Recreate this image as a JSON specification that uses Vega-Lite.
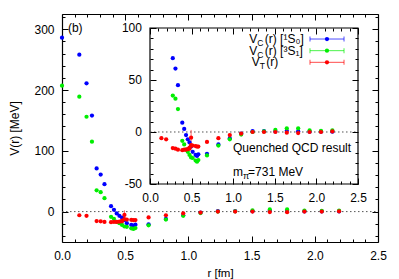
{
  "$schema": "https://vega.github.io/schema/vega-lite/v6.json",
  "width": 316,
  "height": 228,
  "autosize": "none",
  "padding": {"left": 62, "top": 14, "right": 21, "bottom": 37},
  "background": "white",
  "config": {
    "view": {"stroke": null},
    "font": "Liberation Sans",
    "axis": {"labelFont": "Liberation Sans", "titleFont": "Liberation Sans", "labelFontSize": 12, "titleFontSize": 12, "titleFontWeight": "normal", "labelColor": "#000", "titleColor": "#000", "domainColor": "#000", "tickColor": "#000", "grid": false, "labelOverlap": false, "labelFlush": false, "labelBound": false},
    "text": {"font": "Liberation Sans", "fontSize": 12, "color": "#000"}
  },
  "datasets": {
    "pts": [
      {"r": 0.0, "v": 286, "s": "1S0"},
      {"r": 0.137, "v": 258, "s": "1S0"},
      {"r": 0.194, "v": 211, "s": "1S0"},
      {"r": 0.237, "v": 158, "s": "1S0"},
      {"r": 0.274, "v": 71, "s": "1S0"},
      {"r": 0.306, "v": 61, "s": "1S0"},
      {"r": 0.336, "v": 45, "s": "1S0"},
      {"r": 0.388, "v": 9, "s": "1S0"},
      {"r": 0.411, "v": 3, "s": "1S0"},
      {"r": 0.433, "v": -3, "s": "1S0"},
      {"r": 0.454, "v": -7, "s": "1S0"},
      {"r": 0.475, "v": -10, "s": "1S0"},
      {"r": 0.494, "v": -14, "s": "1S0"},
      {"r": 0.513, "v": -19, "s": "1S0"},
      {"r": 0.548, "v": -22, "s": "1S0"},
      {"r": 0.565, "v": -23, "s": "1S0"},
      {"r": 0.581, "v": -21.5, "s": "1S0"},
      {"r": 0.685, "v": -21, "s": "1S0"},
      {"r": 0.822, "v": -12, "s": "1S0"},
      {"r": 0.959, "v": -6, "s": "1S0"},
      {"r": 1.096, "v": -1.5, "s": "1S0"},
      {"r": 1.233, "v": 0.8, "s": "1S0"},
      {"r": 1.37, "v": 0.8, "s": "1S0"},
      {"r": 1.507, "v": 0.5, "s": "1S0"},
      {"r": 1.644, "v": 1.2, "s": "1S0"},
      {"r": 1.781, "v": 0.8, "s": "1S0"},
      {"r": 1.918, "v": 0.3, "s": "1S0"},
      {"r": 2.055, "v": 0.3, "s": "1S0"},
      {"r": 2.192, "v": 0.3, "s": "1S0"},
      {"r": 0.0, "v": 207, "s": "3S1"},
      {"r": 0.137, "v": 189, "s": "3S1"},
      {"r": 0.194, "v": 156, "s": "3S1"},
      {"r": 0.237, "v": 115, "s": "3S1"},
      {"r": 0.274, "v": 35, "s": "3S1"},
      {"r": 0.306, "v": 32, "s": "3S1"},
      {"r": 0.336, "v": 22, "s": "3S1"},
      {"r": 0.388, "v": -8.5, "s": "3S1"},
      {"r": 0.411, "v": -12, "s": "3S1"},
      {"r": 0.433, "v": -17, "s": "3S1"},
      {"r": 0.454, "v": -19, "s": "3S1"},
      {"r": 0.475, "v": -22, "s": "3S1"},
      {"r": 0.494, "v": -24.5, "s": "3S1"},
      {"r": 0.513, "v": -25, "s": "3S1"},
      {"r": 0.548, "v": -27.5, "s": "3S1"},
      {"r": 0.565, "v": -28.5, "s": "3S1"},
      {"r": 0.581, "v": -27, "s": "3S1"},
      {"r": 0.685, "v": -22.5, "s": "3S1"},
      {"r": 0.822, "v": -13, "s": "3S1"},
      {"r": 0.959, "v": -7, "s": "3S1"},
      {"r": 1.096, "v": -2.5, "s": "3S1"},
      {"r": 1.233, "v": 0, "s": "3S1"},
      {"r": 1.37, "v": 0.5, "s": "3S1"},
      {"r": 1.507, "v": 2, "s": "3S1"},
      {"r": 1.644, "v": 3.5, "s": "3S1"},
      {"r": 1.781, "v": 3.5, "s": "3S1"},
      {"r": 1.918, "v": 1.5, "s": "3S1"},
      {"r": 2.055, "v": 1, "s": "3S1"},
      {"r": 2.192, "v": 1.5, "s": "3S1"},
      {"r": 0.137, "v": -6, "s": "T"},
      {"r": 0.194, "v": -7, "s": "T"},
      {"r": 0.274, "v": -15.5, "s": "T"},
      {"r": 0.306, "v": -16, "s": "T"},
      {"r": 0.336, "v": -17, "s": "T"},
      {"r": 0.388, "v": -17.5, "s": "T"},
      {"r": 0.411, "v": -17, "s": "T"},
      {"r": 0.433, "v": -17, "s": "T"},
      {"r": 0.454, "v": -16.5, "s": "T"},
      {"r": 0.475, "v": -16, "s": "T"},
      {"r": 0.475, "v": -15, "s": "T"},
      {"r": 0.494, "v": -12.5, "s": "T"},
      {"r": 0.494, "v": -5.5, "s": "T"},
      {"r": 0.513, "v": -13, "s": "T"},
      {"r": 0.548, "v": -13.5, "s": "T"},
      {"r": 0.565, "v": -14, "s": "T"},
      {"r": 0.581, "v": -14, "s": "T"},
      {"r": 0.685, "v": -9.5, "s": "T"},
      {"r": 0.822, "v": -6, "s": "T"},
      {"r": 0.959, "v": -2.9, "s": "T"},
      {"r": 1.096, "v": -1.5, "s": "T"},
      {"r": 1.233, "v": 0, "s": "T"},
      {"r": 1.37, "v": 0, "s": "T"},
      {"r": 1.507, "v": 0, "s": "T"},
      {"r": 1.644, "v": -0.7, "s": "T"},
      {"r": 1.781, "v": -1, "s": "T"},
      {"r": 1.918, "v": 0, "s": "T"},
      {"r": 2.055, "v": 0, "s": "T"},
      {"r": 2.192, "v": 0.5, "s": "T"}
    ],
    "eb": [
      {"r": 0.494, "lo": -13, "hi": 2, "s": "T"}
    ],
    "one": [{}]
  },
  "layer": [
    {
      "layer": [
        {
          "data": {"name": "one"},
          "mark": {"type": "rule", "color": "#555", "strokeDash": [1.5, 2.5], "strokeWidth": 1},
          "encoding": {
            "x": {"datum": 0, "type": "quantitative", "scale": {"domain": [0, 2.5], "nice": false},
              "axis": {"orient": "top", "title": null, "labels": false, "domain": true, "domainWidth": 1.2,
                "values": [0,0.1,0.2,0.3,0.4,0.5,0.6,0.7,0.8,0.9,1,1.1,1.2,1.3,1.4,1.5,1.6,1.7,1.8,1.9,2,2.1,2.2,2.3,2.4,2.5],
                "tickSize": {"condition": {"test": "abs(datum.value*2 - round(datum.value*2)) < 0.001", "value": -6}, "value": -3}}},
            "x2": {"datum": 2.5},
            "y": {"datum": 0, "type": "quantitative", "scale": {"domain": [-50, 325], "nice": false},
              "axis": {"orient": "right", "title": null, "labels": false, "domain": true, "domainWidth": 1.2,
                "values": [-40,-20,0,20,40,60,80,100,120,140,160,180,200,220,240,260,280,300,320],
                "tickSize": {"condition": {"test": "datum.value % 100 == 0", "value": -6}, "value": -3}}}
          }
        },
        {
          "data": {"name": "eb"},
          "mark": {"type": "rule", "strokeWidth": 1, "opacity": 0.6},
          "encoding": {
            "x": {"field": "r", "type": "quantitative", "axis": null},
            "y": {"field": "lo", "type": "quantitative", "axis": null},
            "y2": {"field": "hi"},
            "color": {"field": "s", "type": "nominal", "legend": null, "scale": {"domain": ["1S0", "3S1", "T"], "range": ["#0000ff", "#00ee00", "#ff0000"]}}
          }
        },
        {
          "data": {"name": "pts"},
          "mark": {"type": "point", "filled": true, "size": 18, "opacity": 1},
          "encoding": {
            "x": {"field": "r", "type": "quantitative", "scale": {"domain": [0, 2.5], "nice": false},
              "axis": {"orient": "bottom", "title": "r [fm]", "titlePadding": 3, "titleFontSize": 11.5, "domain": true, "domainWidth": 1.2, "labelPadding": 14,
                "values": [0,0.1,0.2,0.3,0.4,0.5,0.6,0.7,0.8,0.9,1,1.1,1.2,1.3,1.4,1.5,1.6,1.7,1.8,1.9,2,2.1,2.2,2.3,2.4,2.5],
                "labelExpr": "abs(datum.value*2 - round(datum.value*2)) < 0.001 ? format(datum.value, '.1f') : ''",
                "tickSize": {"condition": {"test": "abs(datum.value*2 - round(datum.value*2)) < 0.001", "value": -6}, "value": -3}}},
            "y": {"field": "v", "type": "quantitative", "scale": {"domain": [-50, 325], "nice": false},
              "axis": {"orient": "left", "title": "V(r) [MeV]", "titlePadding": 12, "domain": true, "domainWidth": 1.2, "labelPadding": 14,
                "values": [-40,-20,0,20,40,60,80,100,120,140,160,180,200,220,240,260,280,300,320],
                "labelExpr": "datum.value % 100 == 0 ? '' + datum.value : ''",
                "tickSize": {"condition": {"test": "datum.value % 100 == 0", "value": -6}, "value": -3}}},
            "color": {"field": "s", "type": "nominal", "legend": null}
          }
        },
        {
          "data": {"name": "one"},
          "mark": {"type": "text", "text": "(b)", "align": "left", "baseline": "middle"},
          "encoding": {
            "x": {"datum": 0.047, "type": "quantitative", "axis": null},
            "y": {"datum": 302, "type": "quantitative", "axis": null}
          }
        },
        {"data": {"name": "one"}, "mark": {"type": "text", "text": "100", "align": "right", "baseline": "middle", "dx": -8},
          "encoding": {"x": {"datum": 0.696, "type": "quantitative", "axis": null}, "y": {"datum": 302, "type": "quantitative", "axis": null}}},
        {"data": {"name": "one"}, "mark": {"type": "text", "text": "50", "align": "right", "baseline": "middle", "dx": -8},
          "encoding": {"x": {"datum": 0.696, "type": "quantitative", "axis": null}, "y": {"datum": 216.4, "type": "quantitative", "axis": null}}},
        {"data": {"name": "one"}, "mark": {"type": "text", "text": "0", "align": "right", "baseline": "middle", "dx": -8},
          "encoding": {"x": {"datum": 0.696, "type": "quantitative", "axis": null}, "y": {"datum": 130.9, "type": "quantitative", "axis": null}}},
        {"data": {"name": "one"}, "mark": {"type": "text", "text": "-50", "align": "right", "baseline": "middle", "dx": -8},
          "encoding": {"x": {"datum": 0.696, "type": "quantitative", "axis": null}, "y": {"datum": 45.4, "type": "quantitative", "axis": null}}}
      ],
      "resolve": {"axis": {"x": "independent", "y": "independent"}}
    },
    {
      "layer": [
        {
          "data": {"name": "one"},
          "mark": {"type": "rect", "fill": null, "fillOpacity": 0, "stroke": "#000", "strokeWidth": 1.2},
          "encoding": {
            "x": {"datum": 0, "type": "quantitative", "scale": {"domain": [-1.0577, 2.7404], "nice": false, "zero": false},
              "axis": {"orient": "top", "offset": -14, "zindex": 1, "title": null, "labels": false, "domain": false,
                "values": [0,0.1,0.2,0.3,0.4,0.5,0.6,0.7,0.8,0.9,1,1.1,1.2,1.3,1.4,1.5,1.6,1.7,1.8,1.9,2,2.1,2.2,2.3,2.4,2.5],
                "tickSize": {"condition": {"test": "abs(datum.value*2 - round(datum.value*2)) < 0.001", "value": -6}, "value": -3}}},
            "x2": {"datum": 2.5},
            "y": {"datum": -50, "type": "quantitative", "scale": {"domain": [-105.77, 113.46], "nice": false, "zero": false},
              "axis": {"orient": "right", "offset": -20, "zindex": 1, "title": null, "labels": false, "domain": false,
                "values": [-50,-40,-30,-20,-10,0,10,20,30,40,50,60,70,80,90,100],
                "tickSize": {"condition": {"test": "datum.value % 50 == 0", "value": -6}, "value": -3}}},
            "y2": {"datum": 100}
          }
        },
        {
          "data": {"name": "one"},
          "mark": {"type": "rule", "color": "#555", "strokeDash": [1.5, 2.5], "strokeWidth": 1},
          "encoding": {
            "x": {"datum": 0, "type": "quantitative", "axis": null},
            "x2": {"datum": 2.5},
            "y": {"datum": 0, "type": "quantitative",
              "axis": {"orient": "left", "offset": -88, "zindex": 1, "title": null, "labels": false, "domain": false,
                "values": [-50,-40,-30,-20,-10,0,10,20,30,40,50,60,70,80,90,100],
                "tickSize": {"condition": {"test": "datum.value % 50 == 0", "value": -6}, "value": -3}}}
          }
        },
        {
          "data": {"name": "eb"},
          "mark": {"type": "rule", "strokeWidth": 1, "opacity": 0.6},
          "encoding": {
            "x": {"field": "r", "type": "quantitative", "axis": null},
            "y": {"field": "lo", "type": "quantitative", "axis": null},
            "y2": {"field": "hi"},
            "color": {"field": "s", "type": "nominal", "legend": null}
          }
        },
        {
          "data": {"name": "pts"},
          "transform": [{"filter": "datum.v <= 100 && datum.v >= -50"}],
          "mark": {"type": "point", "filled": true, "size": 18, "opacity": 1},
          "encoding": {
            "x": {"field": "r", "type": "quantitative", "scale": {"domain": [-1.0577, 2.7404], "nice": false, "zero": false},
              "axis": {"orient": "bottom", "offset": -58, "zindex": 1, "title": null, "domain": false, "labelPadding": 14,
                "values": [0,0.1,0.2,0.3,0.4,0.5,0.6,0.7,0.8,0.9,1,1.1,1.2,1.3,1.4,1.5,1.6,1.7,1.8,1.9,2,2.1,2.2,2.3,2.4,2.5],
                "labelExpr": "abs(datum.value*2 - round(datum.value*2)) < 0.001 ? format(datum.value, '.1f') : ''",
                "tickSize": {"condition": {"test": "abs(datum.value*2 - round(datum.value*2)) < 0.001", "value": -6}, "value": -3}}},
            "y": {"field": "v", "type": "quantitative", "scale": {"domain": [-105.77, 113.46], "nice": false, "zero": false}, "axis": null},
            "color": {"field": "s", "type": "nominal", "legend": null}
          }
        },
        {"data": {"name": "one"}, "mark": {"type": "rule", "color": "#0000ff", "strokeWidth": 1, "opacity": 0.7},
          "encoding": {"x": {"datum": 1.923, "type": "quantitative", "axis": null}, "x2": {"datum": 2.332}, "y": {"datum": 89.4, "type": "quantitative", "axis": null}}},
        {"data": {"name": "one"}, "mark": {"type": "rule", "color": "#00ee00", "strokeWidth": 1, "opacity": 0.7},
          "encoding": {"x": {"datum": 1.923, "type": "quantitative", "axis": null}, "x2": {"datum": 2.332}, "y": {"datum": 78.2, "type": "quantitative", "axis": null}}},
        {"data": {"name": "one"}, "mark": {"type": "rule", "color": "#ff0000", "strokeWidth": 1, "opacity": 0.7},
          "encoding": {"x": {"datum": 1.923, "type": "quantitative", "axis": null}, "x2": {"datum": 2.332}, "y": {"datum": 67, "type": "quantitative", "axis": null}}},
        {"data": {"name": "one"}, "mark": {"type": "tick", "orient": "vertical", "color": "#0000ff", "size": 5, "thickness": 1, "opacity": 0.7},
          "encoding": {"x": {"datum": 1.923, "type": "quantitative", "axis": null}, "y": {"datum": 89.4, "type": "quantitative", "axis": null}}},
        {"data": {"name": "one"}, "mark": {"type": "tick", "orient": "vertical", "color": "#0000ff", "size": 5, "thickness": 1, "opacity": 0.7},
          "encoding": {"x": {"datum": 2.332, "type": "quantitative", "axis": null}, "y": {"datum": 89.4, "type": "quantitative", "axis": null}}},
        {"data": {"name": "one"}, "mark": {"type": "tick", "orient": "vertical", "color": "#00ee00", "size": 5, "thickness": 1, "opacity": 0.7},
          "encoding": {"x": {"datum": 1.923, "type": "quantitative", "axis": null}, "y": {"datum": 78.2, "type": "quantitative", "axis": null}}},
        {"data": {"name": "one"}, "mark": {"type": "tick", "orient": "vertical", "color": "#00ee00", "size": 5, "thickness": 1, "opacity": 0.7},
          "encoding": {"x": {"datum": 2.332, "type": "quantitative", "axis": null}, "y": {"datum": 78.2, "type": "quantitative", "axis": null}}},
        {"data": {"name": "one"}, "mark": {"type": "tick", "orient": "vertical", "color": "#ff0000", "size": 5, "thickness": 1, "opacity": 0.7},
          "encoding": {"x": {"datum": 1.923, "type": "quantitative", "axis": null}, "y": {"datum": 67, "type": "quantitative", "axis": null}}},
        {"data": {"name": "one"}, "mark": {"type": "tick", "orient": "vertical", "color": "#ff0000", "size": 5, "thickness": 1, "opacity": 0.7},
          "encoding": {"x": {"datum": 2.332, "type": "quantitative", "axis": null}, "y": {"datum": 67, "type": "quantitative", "axis": null}}},
        {"data": {"name": "one"}, "mark": {"type": "point", "filled": true, "color": "#0000ff", "size": 18, "opacity": 1},
          "encoding": {"x": {"datum": 2.127, "type": "quantitative", "axis": null}, "y": {"datum": 89.4, "type": "quantitative", "axis": null}}},
        {"data": {"name": "one"}, "mark": {"type": "point", "filled": true, "color": "#00ee00", "size": 18, "opacity": 1},
          "encoding": {"x": {"datum": 2.127, "type": "quantitative", "axis": null}, "y": {"datum": 78.2, "type": "quantitative", "axis": null}}},
        {"data": {"name": "one"}, "mark": {"type": "point", "filled": true, "color": "#ff0000", "size": 18, "opacity": 1},
          "encoding": {"x": {"datum": 2.127, "type": "quantitative", "axis": null}, "y": {"datum": 67, "type": "quantitative", "axis": null}}},
        {"data": {"name": "one"}, "mark": {"type": "text", "text": "V", "align": "left", "baseline": "middle"},
          "encoding": {"x": {"datum": 1.193, "type": "quantitative", "axis": null}, "y": {"datum": 89.4, "type": "quantitative", "axis": null}}},
        {"data": {"name": "one"}, "mark": {"type": "text", "text": "C", "align": "left", "baseline": "middle", "dx": 8, "dy": 4, "fontSize": 8.5},
          "encoding": {"x": {"datum": 1.193, "type": "quantitative", "axis": null}, "y": {"datum": 89.4, "type": "quantitative", "axis": null}}},
        {"data": {"name": "one"}, "mark": {"type": "text", "text": "(r) [¹S₀]", "align": "left", "baseline": "middle", "dx": 15.5},
          "encoding": {"x": {"datum": 1.193, "type": "quantitative", "axis": null}, "y": {"datum": 89.4, "type": "quantitative", "axis": null}}},
        {"data": {"name": "one"}, "mark": {"type": "text", "text": "V", "align": "left", "baseline": "middle"},
          "encoding": {"x": {"datum": 1.193, "type": "quantitative", "axis": null}, "y": {"datum": 78.2, "type": "quantitative", "axis": null}}},
        {"data": {"name": "one"}, "mark": {"type": "text", "text": "C", "align": "left", "baseline": "middle", "dx": 8, "dy": 4, "fontSize": 8.5},
          "encoding": {"x": {"datum": 1.193, "type": "quantitative", "axis": null}, "y": {"datum": 78.2, "type": "quantitative", "axis": null}}},
        {"data": {"name": "one"}, "mark": {"type": "text", "text": "(r) [³S₁]", "align": "left", "baseline": "middle", "dx": 15.5},
          "encoding": {"x": {"datum": 1.193, "type": "quantitative", "axis": null}, "y": {"datum": 78.2, "type": "quantitative", "axis": null}}},
        {"data": {"name": "one"}, "mark": {"type": "text", "text": "V", "align": "left", "baseline": "middle"},
          "encoding": {"x": {"datum": 1.222, "type": "quantitative", "axis": null}, "y": {"datum": 67, "type": "quantitative", "axis": null}}},
        {"data": {"name": "one"}, "mark": {"type": "text", "text": "T", "align": "left", "baseline": "middle", "dx": 8, "dy": 4, "fontSize": 8.5},
          "encoding": {"x": {"datum": 1.222, "type": "quantitative", "axis": null}, "y": {"datum": 67, "type": "quantitative", "axis": null}}},
        {"data": {"name": "one"}, "mark": {"type": "text", "text": "(r)", "align": "left", "baseline": "middle", "dx": 14.5},
          "encoding": {"x": {"datum": 1.222, "type": "quantitative", "axis": null}, "y": {"datum": 67, "type": "quantitative", "axis": null}}},
        {"data": {"name": "one"}, "mark": {"type": "text", "text": "Quenched QCD result", "align": "left", "baseline": "middle"},
          "encoding": {"x": {"datum": 0.998, "type": "quantitative", "axis": null}, "y": {"datum": -15.4, "type": "quantitative", "axis": null}}},
        {"data": {"name": "one"}, "mark": {"type": "text", "text": "m", "align": "left", "baseline": "middle"},
          "encoding": {"x": {"datum": 0.998, "type": "quantitative", "axis": null}, "y": {"datum": -38.5, "type": "quantitative", "axis": null}}},
        {"data": {"name": "one"}, "mark": {"type": "text", "text": "π", "align": "left", "baseline": "middle", "dx": 10, "dy": 4, "fontSize": 9},
          "encoding": {"x": {"datum": 0.998, "type": "quantitative", "axis": null}, "y": {"datum": -38.5, "type": "quantitative", "axis": null}}},
        {"data": {"name": "one"}, "mark": {"type": "text", "text": "=731 MeV", "align": "left", "baseline": "middle", "dx": 15},
          "encoding": {"x": {"datum": 0.998, "type": "quantitative", "axis": null}, "y": {"datum": -38.5, "type": "quantitative", "axis": null}}}
      ],
      "resolve": {"axis": {"x": "independent", "y": "independent"}}
    }
  ],
  "resolve": {"scale": {"x": "independent", "y": "independent"}}
}
